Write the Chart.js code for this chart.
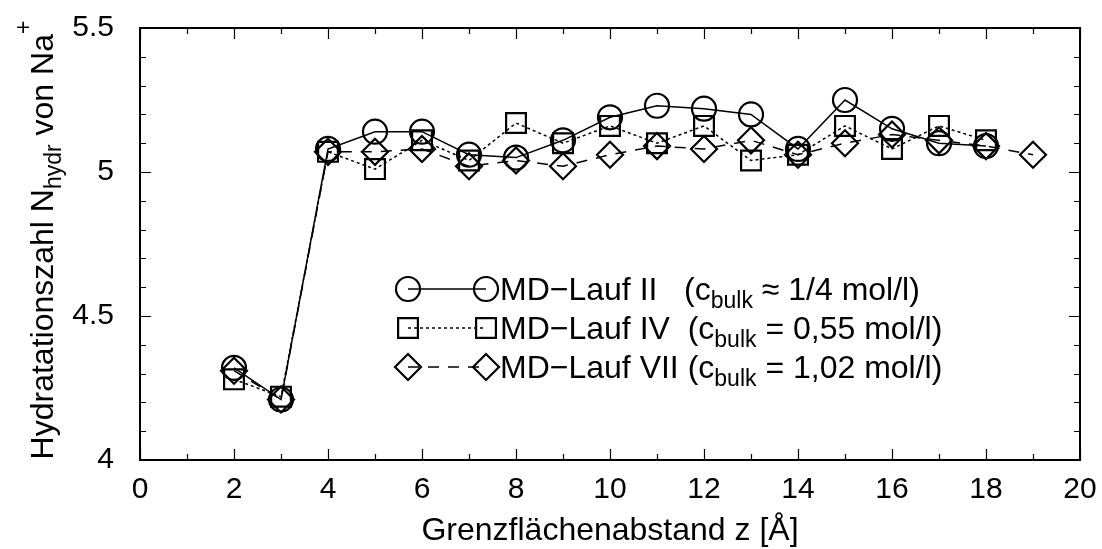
<!DOCTYPE html>
<html lang="de">
<head>
<meta charset="UTF-8">
<title>Hydratationszahl von Na+</title>
<script src="https://cdn.jsdelivr.net/npm/chart.js"></script>
<style>
    body {
        margin: 0;
        background: #fff;
    }

    .chart-container {
        position: relative;
        width: 1102px;
        height: 549px;
    }
</style>
</head>
<body>
<div class="chart-container">
    <canvas id="hydrChart"></canvas>
</div>
<script>
    // Grenzflächenabstand z [Å] und Hydratationszahl je MD-Lauf
    const zLauf2 = [2, 3, 4, 5, 6, 7, 8, 9, 10, 11, 12, 13, 14, 15, 16, 17, 18];
    const nLauf2 = [4.32, 4.21, 5.08, 5.14, 5.14, 5.06, 5.05, 5.11, 5.19, 5.23, 5.22, 5.20, 5.08, 5.25, 5.15, 5.10, 5.09];

    const zLauf4 = [2, 3, 4, 5, 6, 7, 8, 9, 10, 11, 12, 13, 14, 15, 16, 17, 18];
    const nLauf4 = [4.28, 4.22, 5.07, 5.01, 5.11, 5.04, 5.17, 5.10, 5.16, 5.10, 5.16, 5.04, 5.06, 5.16, 5.08, 5.16, 5.11];

    const zLauf7 = [2, 3, 4, 5, 6, 7, 8, 9, 10, 11, 12, 13, 14, 15, 16, 17, 18, 19];
    const nLauf7 = [4.31, 4.21, 5.07, 5.07, 5.08, 5.02, 5.04, 5.02, 5.06, 5.09, 5.08, 5.11, 5.06, 5.10, 5.13, 5.11, 5.09, 5.06];

    const xRange = [0, 20];
    const yRange = [4, 5.5];

    // legend entries: [main text, subscript, rest]
    const legendTexts = [
        ['MD\u2212Lauf II   (c', 'bulk', ' \u2248 1/4 mol/l)'],
        ['MD\u2212Lauf IV  (c', 'bulk', ' = 0,55 mol/l)'],
        ['MD\u2212Lauf VII (c', 'bulk', ' = 1,02 mol/l)']
    ];

    const FONT = '"Liberation Sans", Arial, Helvetica, sans-serif';

    const toPoints = (xs, ys) => xs.map((x, i) => ({ x: x, y: ys[i] }));

    const seriesStyles = [
        { pointStyle: 'circle', radius: 12, dash: [] },
        { pointStyle: 'rect', radius: 14, dash: [3, 3] },
        { pointStyle: 'rectRot', radius: 13, dash: [11, 9] }
    ];

    function makeDataset(label, xs, ys, st) {
        return {
            label: label,
            data: toPoints(xs, ys),
            showLine: true,
            tension: 0,
            borderColor: '#000',
            borderWidth: 1.5,
            borderDash: st.dash,
            pointStyle: st.pointStyle,
            pointRadius: st.radius,
            pointHoverRadius: st.radius,
            pointBorderWidth: 2.2,
            pointBorderColor: '#000',
            pointBackgroundColor: 'rgba(0,0,0,0)'
        };
    }

    // no extra label padding, the plot frame is set by layout.padding
    function noScalePadding(scale) {
        scale.paddingTop = 0;
        scale.paddingBottom = 0;
        scale.paddingLeft = 0;
        scale.paddingRight = 0;
    }

    // Rahmen, nach innen zeigende Ticks, Achsentitel und Legende
    const framePlugin = {
        id: 'frame',
        afterDraw(chart) {
            const ctx = chart.ctx;
            const a = chart.chartArea;
            const xs = chart.scales.x;
            const ys = chart.scales.y;

            ctx.save();
            ctx.strokeStyle = '#000';

            // ticks on all four sides
            ctx.lineWidth = 1.2;
            ctx.beginPath();
            for (let v = xRange[0]; v <= xRange[1]; v++) {
                const px = Math.round(xs.getPixelForValue(v)) + 0.5;
                const len = v % 2 === 0 ? 11 : 6;
                ctx.moveTo(px, a.bottom); ctx.lineTo(px, a.bottom - len);
                ctx.moveTo(px, a.top); ctx.lineTo(px, a.top + len);
            }
            for (let k = 0; k <= 15; k++) {
                const v = yRange[0] + k * 0.1;
                const py = Math.round(ys.getPixelForValue(v)) + 0.5;
                const len = k % 5 === 0 ? 11 : 6;
                ctx.moveTo(a.left, py); ctx.lineTo(a.left + len, py);
                ctx.moveTo(a.right, py); ctx.lineTo(a.right - len, py);
            }
            ctx.stroke();

            ctx.lineWidth = 2;
            ctx.strokeRect(a.left, a.top, a.right - a.left, a.bottom - a.top);

            // x axis title
            ctx.fillStyle = '#000';
            ctx.font = '32px ' + FONT;
            ctx.textAlign = 'center';
            ctx.textBaseline = 'alphabetic';
            ctx.fillText('Grenzfl\u00e4chenabstand z [\u00c5]', (a.left + a.right) / 2, 540);

            // y axis title with sub- and superscript
            const parts = [
                { t: 'Hydratationszahl N', size: 32, dy: 0 },
                { t: 'hydr', size: 23, dy: 8 },
                { t: ' von Na', size: 32, dy: 0 },
                { t: '+', size: 23, dy: -22 }
            ];
            let total = 0;
            parts.forEach(p => {
                ctx.font = p.size + 'px ' + FONT;
                p.w = ctx.measureText(p.t).width;
                total += p.w;
            });
            ctx.translate(53, 240);
            ctx.rotate(-Math.PI / 2);
            ctx.textAlign = 'left';
            let cx = -total / 2;
            parts.forEach(p => {
                ctx.font = p.size + 'px ' + FONT;
                ctx.fillText(p.t, cx, p.dy);
                cx += p.w;
            });
            ctx.restore();

            // legend
            ctx.save();
            const rows = [289, 328, 367];
            const x1 = 408, x2 = 486, tx = 500;
            rows.forEach((ry, i) => {
                const st = seriesStyles[i];
                ctx.strokeStyle = '#000';
                ctx.lineWidth = 1.5;
                ctx.setLineDash(st.dash);
                ctx.beginPath();
                ctx.moveTo(x1, ry);
                ctx.lineTo(x2, ry);
                ctx.stroke();
                ctx.setLineDash([]);
                ctx.lineWidth = 2.2;
                ctx.fillStyle = 'rgba(0,0,0,0)';
                Chart.helpers.drawPoint(ctx, { pointStyle: st.pointStyle, radius: st.radius, rotation: 0, borderWidth: 2.2 }, x1, ry);
                Chart.helpers.drawPoint(ctx, { pointStyle: st.pointStyle, radius: st.radius, rotation: 0, borderWidth: 2.2 }, x2, ry);

                const [main, sub, rest] = legendTexts[i];
                ctx.fillStyle = '#000';
                ctx.textAlign = 'left';
                ctx.textBaseline = 'alphabetic';
                const base = ry + 11;
                let lx = tx;
                ctx.font = '32px ' + FONT;
                ctx.fillText(main, lx, base);
                lx += ctx.measureText(main).width;
                ctx.font = '23px ' + FONT;
                ctx.fillText(sub, lx, base + 8);
                lx += ctx.measureText(sub).width;
                ctx.font = '32px ' + FONT;
                ctx.fillText(rest, lx, base);
            });
            ctx.restore();
        }
    };

    const ctx = document.getElementById('hydrChart').getContext('2d');
    const hydrChart = new Chart(ctx, {
        type: 'scatter',
        data: {
            datasets: [
                makeDataset('MD-Lauf II', zLauf2, nLauf2, seriesStyles[0]),
                makeDataset('MD-Lauf IV', zLauf4, nLauf4, seriesStyles[1]),
                makeDataset('MD-Lauf VII', zLauf7, nLauf7, seriesStyles[2])
            ]
        },
        options: {
            responsive: true,
            maintainAspectRatio: false,
            animation: false,
            layout: {
                padding: { left: 0, right: 22, top: 28, bottom: 0 }
            },
            scales: {
                x: {
                    type: 'linear',
                    min: xRange[0],
                    max: xRange[1],
                    grid: { display: false, drawTicks: false },
                    border: { display: false },
                    ticks: {
                        stepSize: 2,
                        padding: 12,
                        color: '#000',
                        font: { size: 30, family: FONT },
                        callback: v => String(v)
                    },
                    afterFit(scale) {
                        scale.height = 89;
                        noScalePadding(scale);
                    }
                },
                y: {
                    type: 'linear',
                    min: yRange[0],
                    max: yRange[1],
                    grid: { display: false, drawTicks: false },
                    border: { display: false },
                    ticks: {
                        stepSize: 0.5,
                        padding: 26,
                        color: '#000',
                        font: { size: 30, family: FONT },
                        callback: v => String(v)
                    },
                    afterFit(scale) {
                        scale.width = 140;
                        noScalePadding(scale);
                    }
                }
            },
            plugins: {
                legend: { display: false },
                tooltip: { enabled: false }
            }
        },
        plugins: [framePlugin]
    });
</script>
</body>
</html>
